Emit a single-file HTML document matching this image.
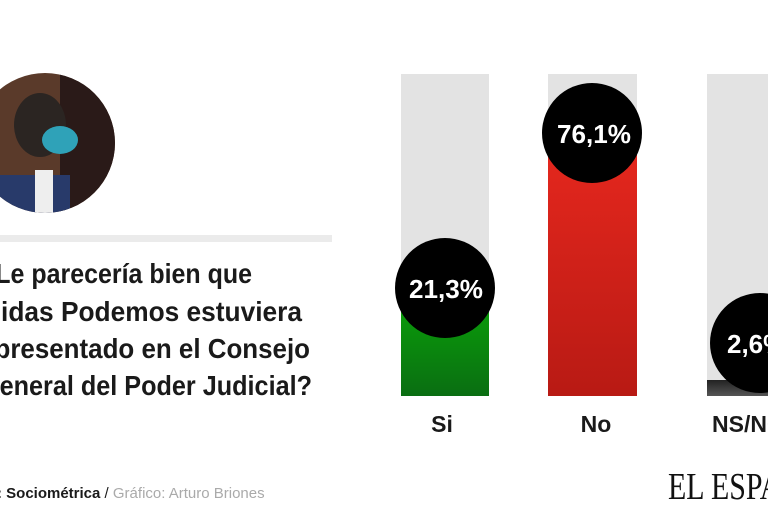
<!DOCTYPE html>
<html><head><meta charset="utf-8"><style>
html,body{margin:0;padding:0;background:#fff;width:768px;height:512px;overflow:hidden}
</style></head><body>
<svg width="768" height="512" xmlns="http://www.w3.org/2000/svg" font-family="Liberation Sans, sans-serif">
<defs>
<linearGradient id="g" x1="0" y1="0" x2="0" y2="1"><stop offset="0" stop-color="#0a9a0a"/><stop offset="1" stop-color="#0a6e12"/></linearGradient>
<linearGradient id="r" x1="0" y1="0" x2="0" y2="1"><stop offset="0" stop-color="#e8281e"/><stop offset="1" stop-color="#b81a14"/></linearGradient>
<linearGradient id="k" x1="0" y1="0" x2="0" y2="1"><stop offset="0" stop-color="#222"/><stop offset="1" stop-color="#555"/></linearGradient>
<clipPath id="c"><circle cx="45" cy="143" r="70"/></clipPath>
</defs>
<g clip-path="url(#c)">
<rect x="-30" y="70" width="150" height="150" fill="#5a3a2a"/>
<rect x="60" y="70" width="60" height="150" fill="#2a1a18"/>
<rect x="-30" y="175" width="100" height="50" fill="#283a6a"/>
<ellipse cx="40" cy="125" rx="26" ry="32" fill="#2b2522"/>
<ellipse cx="60" cy="140" rx="18" ry="14" fill="#2fa2b8"/>
<rect x="35" y="170" width="18" height="45" fill="#eee"/>
</g>
<rect x="0" y="235" width="332" height="7" fill="#ebebeb"/>
<g font-weight="bold" font-size="28" fill="#1a1a1a">
<text x="252" y="283" text-anchor="end" textLength="272" lengthAdjust="spacingAndGlyphs">¿Le parecería bien que</text>
<text x="302" y="321" text-anchor="end" textLength="336" lengthAdjust="spacingAndGlyphs">Unidas Podemos estuviera</text>
<text x="310" y="358" text-anchor="end" textLength="340" lengthAdjust="spacingAndGlyphs">representado en el Consejo</text>
<text x="312" y="395" text-anchor="end" textLength="332" lengthAdjust="spacingAndGlyphs">General del Poder Judicial?</text>
</g>
<text x="-3" y="498" font-size="15"><tspan font-weight="bold" fill="#1a1a1a">: Sociométrica</tspan><tspan fill="#1a1a1a"> / </tspan><tspan fill="#aaa">Gráfico: Arturo Briones</tspan></text>
<rect x="401" y="74" width="88" height="322" fill="#e3e3e3"/>
<rect x="401" y="310" width="88" height="86" fill="url(#g)"/>
<rect x="548" y="74" width="89" height="322" fill="#e3e3e3"/>
<rect x="548" y="130" width="89" height="266" fill="url(#r)"/>
<rect x="707" y="74" width="70" height="322" fill="#e3e3e3"/>
<rect x="707" y="380" width="70" height="16" fill="url(#k)"/>
<circle cx="445" cy="288" r="50" fill="#000"/>
<circle cx="592" cy="133" r="50" fill="#000"/>
<circle cx="760" cy="343" r="50" fill="#000"/>
<g font-weight="bold" font-size="26" fill="#fff" text-anchor="middle">
<text x="446" y="298" textLength="74" lengthAdjust="spacingAndGlyphs">21,3%</text>
<text x="594" y="143" textLength="74" lengthAdjust="spacingAndGlyphs">76,1%</text>
<text x="727" y="353" text-anchor="start">2,6%</text>
</g>
<g font-weight="bold" font-size="23" fill="#1a1a1a" text-anchor="middle">
<text x="442" y="432">Si</text>
<text x="596" y="432">No</text>
<text x="712" y="432" text-anchor="start">NS/NC</text>
</g>
<text x="668" y="499" font-family="Liberation Serif, serif" font-size="38" fill="#111" textLength="135" lengthAdjust="spacingAndGlyphs">EL ESPAÑ</text>
</svg>
</body></html>
